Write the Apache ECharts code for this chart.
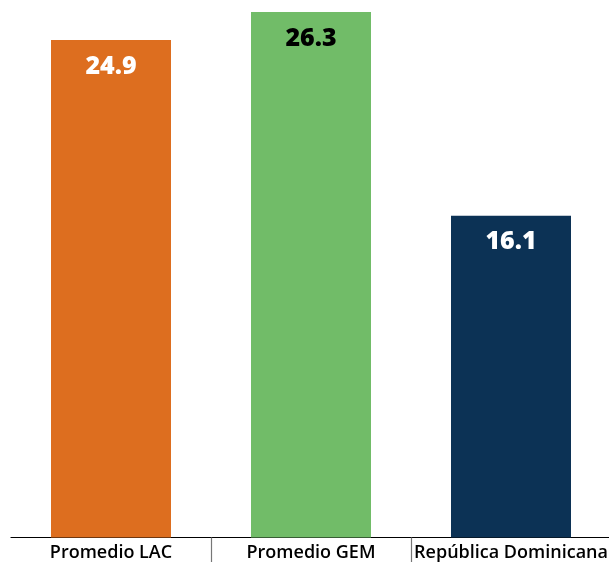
<!DOCTYPE html>
<html>
<head>
<meta charset="utf-8">
<script src="https://cdn.jsdelivr.net/npm/echarts@6/dist/echarts.min.js"></script>
<style>
html,body{margin:0;padding:0;background:#fff;}
#chart{width:609px;height:562px;}
</style>
</head>
<body>
<div id="chart"></div>
<script>
const categories = ['Promedio LAC', 'Promedio GEM', 'República Dominicana'];
const values = [24.9, 26.3, 16.1];
const barColors = ['#DD6E1F', '#71BC68', '#0C3255'];
const labelColors = ['#FFFFFF', '#000000', '#FFFFFF'];

const chart = echarts.init(document.getElementById('chart'));
chart.setOption({
  animation: false,
  grid: { left: 11, right: -2, top: 0, bottom: 24.5, containLabel: false, outerBoundsMode: 'none' },
  xAxis: {
    type: 'category',
    data: categories,
    boundaryGap: true,
    axisLine: { show: true, lineStyle: { color: '#000', width: 1.2 } },
    axisTick: { show: true, length: 26, lineStyle: { color: '#777', width: 1.2 },
      interval: function (index) { return index !== 0; } },
    axisLabel: { color: '#000', fontFamily: 'Open Sans', fontWeight: 600, fontSize: 18, margin: 6, interval: 0 }
  },
  yAxis: {
    type: 'value', min: 0, max: 26.9,
    show: false, splitLine: { show: false }
  },
  series: [{
    type: 'bar',
    barWidth: 120,
    data: values.map((v, i) => ({
      value: v,
      itemStyle: { color: barColors[i] },
      label: { color: labelColors[i] }
    })),
    label: {
      show: true, position: 'insideTop', distance: 14,
      fontFamily: 'Open Sans', fontWeight: 800, fontSize: 25, lineHeight: 25,
      formatter: p => p.value.toFixed(1)
    }
  }]
});
</script>
</body>
</html>
